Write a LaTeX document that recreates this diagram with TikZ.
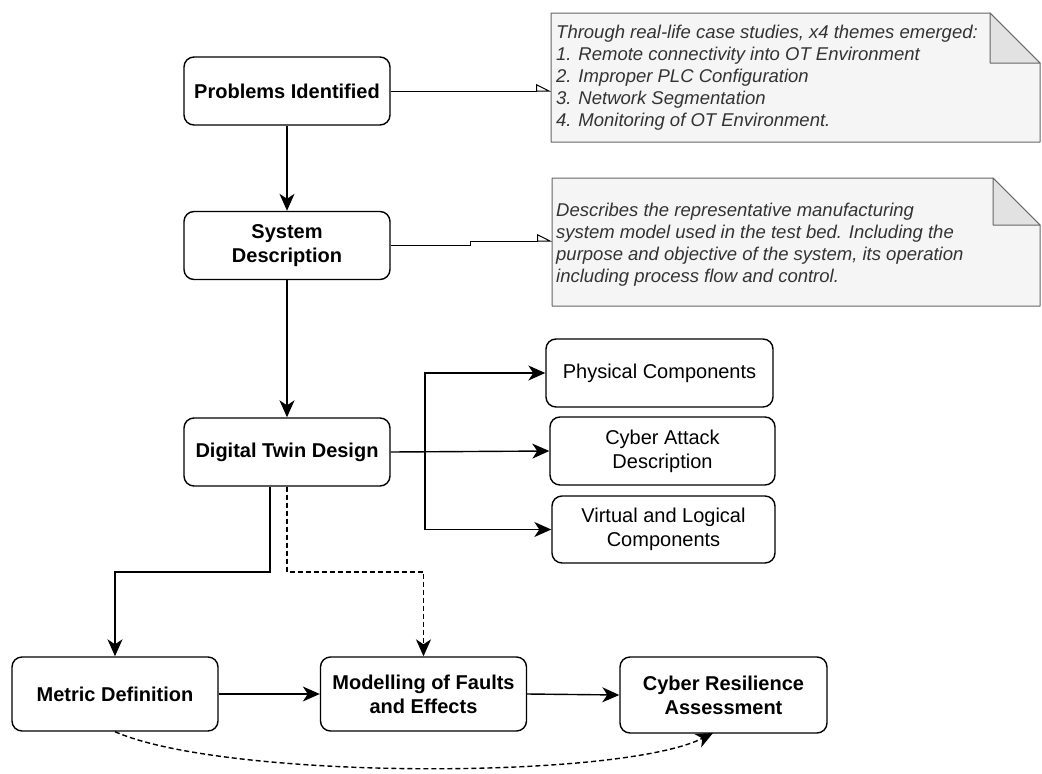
\documentclass[tikz,border=0pt]{standalone}
\usepackage{fontspec}
\setmainfont{Liberation Sans}
\usetikzlibrary{arrows.meta}
\definecolor{notefill}{HTML}{F5F5F5}
\definecolor{noteline}{HTML}{666666}
\definecolor{notefold}{HTML}{E2E2E2}
\definecolor{notetext}{HTML}{333333}
\begin{document}
\begin{tikzpicture}[x=1pt,y=-1pt,
  stepbox/.style={draw, line width=1.4pt, rounded corners=10pt, align=center,
    inner sep=0pt, minimum width=206pt, minimum height=68pt,
    font=\fontsize{20}{24}\selectfont},
  boldbox/.style={stepbox, font=\fontsize{20}{24}\selectfont\bfseries},
  notebody/.style={draw=noteline, fill=notefill, line width=1pt, line join=round},
  foldpart/.style={draw=noteline, fill=notefold, line width=1pt, line join=round},
  notetxt/.style={anchor=north west, inner sep=0pt, align=left, text=notetext,
    font=\fontsize{18.5}{22}\selectfont\itshape},
  flow/.style={line width=1.4pt, -{Stealth[length=17pt,width=15pt,inset=5pt]}},
  noteflow/.style={line width=1pt, -{Triangle[open,harpoon,length=14pt,width=14pt]}}
]
\useasboundingbox (0,0) rectangle (1042,774);

% notes with folded corner
\path[notebody] (551,13) -- (990,13) -- (1040,63) -- (1040,142) -- (551,142) -- cycle;
\path[foldpart] (990,13) -- (990,63) -- (1040,63) -- cycle;
\coordinate (n1) at (551,91);
\node[notetxt] (t1) at (556,25) {Through real-life case studies, x4 themes emerged:\\
1. Remote connectivity into OT Environment\\
2. Improper PLC Configuration\\
3. Network Segmentation\\
4. Monitoring of OT Environment.};

\path[notebody] (552,178) -- (993,178) -- (1040,225) -- (1040,306) -- (552,306) -- cycle;
\path[foldpart] (993,178) -- (993,225) -- (1040,225) -- cycle;
\coordinate (n2) at (552,241);
\node[notetxt] (t2) at (556,203) {Describes the representative manufacturing\\
system model used in the test bed. Including the\\
purpose and objective of the system, its operation\\
including process flow and control.};

% main steps
\node[boldbox] (pi) at (287,91) {Problems Identified};
\node[boldbox] (sd) at (287,245.5) {System\\Description};
\node[boldbox] (dtd) at (287,452) {Digital Twin Design};
\node[stepbox, minimum width=227pt] (pc) at (659.5,373) {Physical Components};
\node[stepbox, minimum width=225pt] (cad) at (662.5,451) {Cyber Attack\\Description};
\node[stepbox, minimum width=223pt, minimum height=67pt] (vlc) at (663.5,529.5) {Virtual and Logical\\Components};
\node[boldbox, minimum height=74pt] (md) at (115,694) {Metric Definition};
\node[boldbox, minimum height=74pt] (mfe) at (423.5,694) {Modelling of Faults\\and Effects};
\node[boldbox, minimum width=207pt, minimum height=76pt] (cra) at (723.5,695) {Cyber Resilience\\Assessment};

% links to the notes
\draw[noteflow] (pi.east) -- (n1);
\coordinate (jg1) at (470,245.5);
\coordinate (jg2) at (470,241);
\draw[noteflow] (sd.east) -- (jg1) -- (jg2) -- (n2);

% main flow
\draw[flow] (pi.south) -- (sd.north);
\draw[flow] (sd.south) -- (dtd.north);

% component branches
\coordinate (br) at (425,452);
\draw[flow] (dtd.east) -- (cad.west);
\draw[flow] (br) |- (pc.west);
\draw[flow] (br) |- (vlc.west);

% down to metric definition and modelling
\coordinate (ja) at (270,572);
\coordinate (jb) at (287,572);
\draw[flow] (dtd.south -| ja) -- (ja) -| (md.north);
\draw[flow, dashed, dash pattern=on 5pt off 3pt] (dtd.south) -- (jb) -| (mfe.north);

\draw[flow] (md.east) -- (mfe.west);
\draw[flow] (mfe.east) -- (cra.west);

% dashed feedback to the assessment
\coordinate (ce) at (713,733);
\draw[flow, dashed, dash pattern=on 5pt off 3pt] (md.south) .. controls (225,780) and (620,780) .. (ce);
\end{tikzpicture}
\end{document}
